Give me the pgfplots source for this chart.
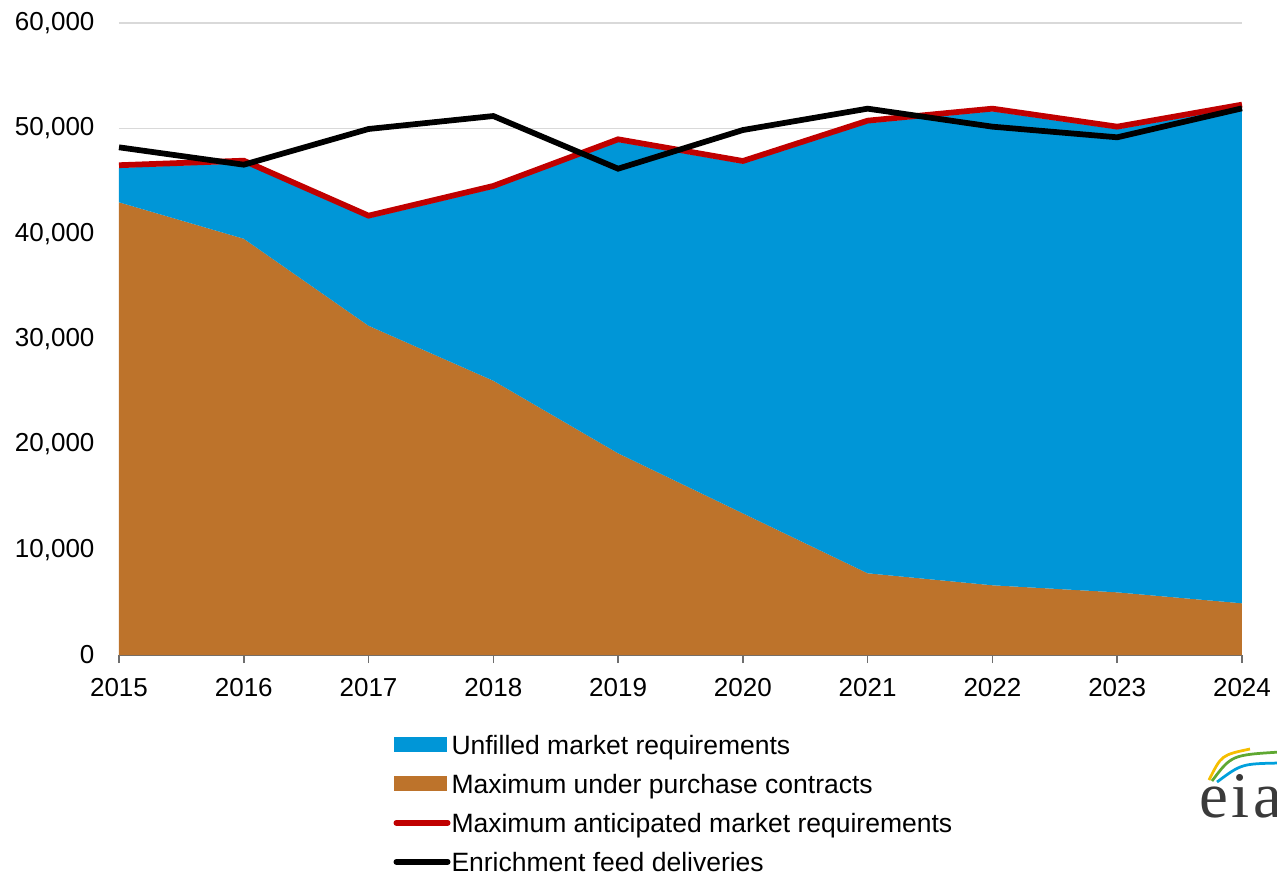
\documentclass[border=0pt]{standalone}
\usepackage{fontspec}
\setmainfont{Liberation Sans}
\newfontfamily\eiaserif{Liberation Serif}
\usepackage{pgfplots}
\pgfplotsset{compat=1.18}
\definecolor{eiablue}{RGB}{0,150,215}
\definecolor{eiabrown}{RGB}{189,115,43}
\definecolor{eiared}{RGB}{192,0,0}
\definecolor{gridgray}{RGB}{217,217,217}
\definecolor{axisgray}{RGB}{110,110,110}
\definecolor{logoyellow}{RGB}{245,190,0}
\definecolor{logogreen}{RGB}{95,168,50}
\definecolor{logoblue}{RGB}{0,160,220}
\definecolor{logotext}{RGB}{58,58,58}

\begin{document}
\begin{tikzpicture}[font=\fontsize{10.4}{12}\selectfont]
\begin{axis}[
  scale only axis, width=449.2pt, height=252.8pt,
  xmin=2015, xmax=2024, ymin=0, ymax=60000,
  xtick={2015,2016,...,2024}, ytick={0,10000,...,60000},
  scaled y ticks=false,
  /pgf/number format/assume math mode=true,
  tick label style={font=\fontsize{10.4}{12}\selectfont},
  xticklabel style={/pgf/number format/1000 sep={}, yshift=-2.5pt},
  yticklabel style={xshift=-3.1pt},
  axis x line*=bottom, axis y line*=left,
  y axis line style={draw=none},
  x axis line style={axisgray, line width=0.8pt, -},
  tick align=outside, major tick length=3.2pt,
  xtick style={axisgray, line width=0.6pt},
  ytick style={draw=none},
  ymajorgrids, grid style={gridgray, line width=0.6pt},
  clip=false,
  stack plots=y, reverse stacked plots=false,
  legend cell align=left,
  legend style={at={(0.244,-0.1258)}, anchor=north west, draw=none, fill=none,
    inner sep=0pt, row sep=7.8pt, font=\fontsize{10.6}{12}\selectfont,
    nodes={inner sep=0pt, text height=7.8pt, text depth=0pt},
    /tikz/every odd column/.append style={column sep=0.4pt}},
]
\addplot[fill=eiabrown, draw=none, forget plot] coordinates {
 (2015,42980) (2016,39520) (2017,31260) (2018,26040) (2019,19150)
 (2020,13450) (2021,7760) (2022,6620) (2023,5950) (2024,4910)} \closedcycle;
\addplot[fill=eiablue, draw=none, forget plot] coordinates {
 (2015,3270) (2016,7160) (2017,10200) (2018,18240) (2019,29560)
 (2020,33200) (2021,42720) (2022,45000) (2023,43960) (2024,47090)} \closedcycle;
\addplot[stack plots=false, eiared, line width=2.3pt, forget plot] coordinates {
 (2015,46500) (2016,46930) (2017,41710) (2018,44530) (2019,48960)
 (2020,46900) (2021,50730) (2022,51870) (2023,50160) (2024,52250)};
\addplot[stack plots=false, black, line width=2.3pt, forget plot] coordinates {
 (2015,48200) (2016,46550) (2017,49940) (2018,51170) (2019,46170)
 (2020,49840) (2021,51870) (2022,50160) (2023,49150) (2024,51900)};

\addlegendimage{legend image code/.code={\fill[eiablue] (0pt,-2.8pt) rectangle (20.8pt,2.8pt);}}
\addlegendentry{Unfilled market requirements}
\addlegendimage{legend image code/.code={\fill[eiabrown] (0pt,-2.8pt) rectangle (20.8pt,2.8pt);}}
\addlegendentry{Maximum under purchase contracts}
\addlegendimage{legend image code/.code={\draw[eiared, line width=2.3pt, line cap=round] (0.75pt,0pt) -- (21.25pt,0pt);}}
\addlegendentry{Maximum anticipated market requirements}
\addlegendimage{legend image code/.code={\draw[black, line width=2.3pt, line cap=round] (0.75pt,0pt) -- (21.25pt,0pt);}}
\addlegendentry{Enrichment feed deliveries}

\coordinate (SW) at (rel axis cs:0,0);
\end{axis}
% eia logo (partly cut off at the right edge, as in the reference)
\node[anchor=base west, inner sep=0pt, text=logotext,
  font=\fontsize{26}{26}\eiaserif] at ([xshift=432pt, yshift=-64.8pt]SW) {e\kern1.4pt i\kern1.4pt a};
\draw[logoyellow, line width=1.1pt] ([xshift=436pt,yshift=-50pt]SW) .. controls ([xshift=441pt,yshift=-40pt]SW) .. ([xshift=452.4pt,yshift=-37.6pt]SW);
\draw[logogreen, line width=1.1pt] ([xshift=437.2pt,yshift=-50.4pt]SW) .. controls ([xshift=445pt,yshift=-40pt]SW) .. ([xshift=464.4pt,yshift=-38.8pt]SW);
\draw[logoblue, line width=1.1pt] ([xshift=439.2pt,yshift=-50.8pt]SW) .. controls ([xshift=449pt,yshift=-43.5pt]SW) .. ([xshift=464.4pt,yshift=-43.2pt]SW);
\pgfresetboundingbox
\path ([xshift=-47.6pt,yshift=-87.2pt]SW) rectangle ([xshift=463.2pt,yshift=262pt]SW);
\end{tikzpicture}
\end{document}
